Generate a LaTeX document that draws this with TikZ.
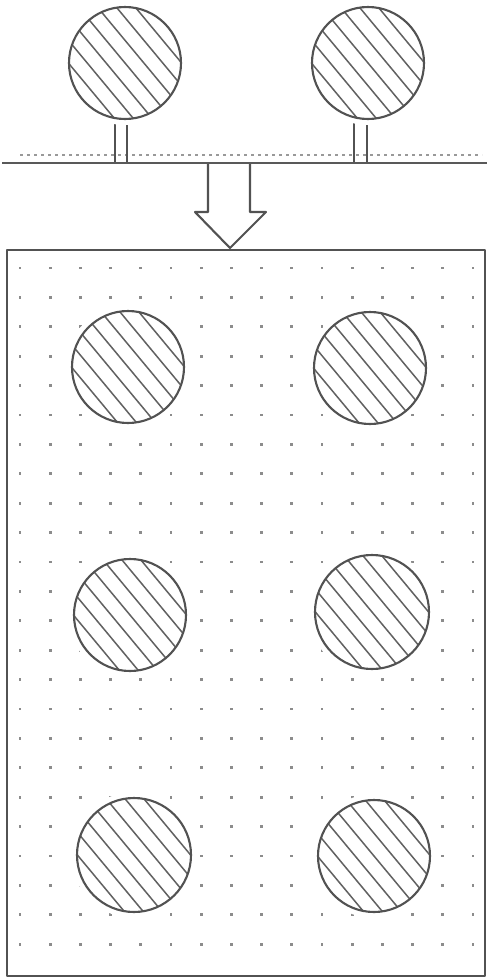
\documentclass[tikz,border=0pt]{standalone}
\begin{document}
\begin{tikzpicture}[x=1pt,y=-1pt]
\tikzset{
  outline/.style={draw=black!68,line width=2.1pt,line join=round},
  hatchline/.style={draw=black!62,line width=1.5pt},
  dotmark/.style={fill=black!45},
  groundline/.style={draw=black!65,line width=2.4pt},
  dashline/.style={draw=black!40,line width=1.3pt,dash pattern=on 3pt off 4pt},
}
\useasboundingbox (0,0) rectangle (490,980);
\fill[white] (0,0) rectangle (490,980);
\newcommand\hatchball[3]{%
  \fill[white] (#1,#2) circle ({#3+6});
  \begin{scope}
    \clip (#1,#2) circle (#3);
    \foreach \k in {-6,...,6}
      \draw[hatchline,shift={(#1,#2)}]
        ({\k*14.5*0.77-90*0.64},{-\k*14.5*0.64-90*0.77}) --
        ({\k*14.5*0.77+90*0.64},{-\k*14.5*0.64+90*0.77});
  \end{scope}
  \draw[outline] (#1,#2) circle (#3);}
% ground and stems
\draw[dashline] (20,155) -- (482,155);
\draw[outline] (115,118) -- (115,163) (127,118) -- (127,163);
\draw[outline] (354,118) -- (354,163) (367,118) -- (367,163);
\draw[groundline] (2,163) -- (487,163);
\hatchball{125}{63}{56}
\hatchball{368}{63}{56}
% arrow
\draw[outline,fill=white] (208,164) -- (208,212) -- (195,212) -- (230,248) -- (266,212) -- (250,212) -- (250,164);
% box with dots
\draw[outline] (7,250) rectangle (485,976);
\foreach \i in {0,...,15}
  \foreach \j in {0,...,23}
    \fill[dotmark] ({20+\i*30.2-1.4},{268+\j*29.4-1.4}) rectangle ++(2.8,2.8);
\hatchball{128}{367}{56}
\hatchball{370}{368}{56}
\hatchball{130}{615}{56}
\hatchball{372}{612}{57}
\hatchball{134}{855}{57}
\hatchball{374}{856}{56}
\end{tikzpicture}
\end{document}
